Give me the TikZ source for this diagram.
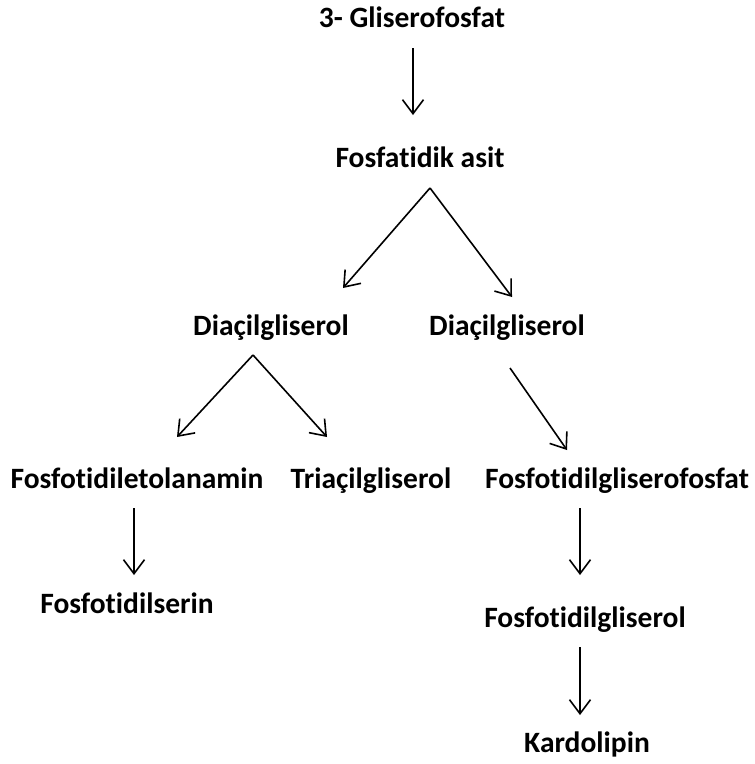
\documentclass[tikz,border=0pt]{standalone}
\usepackage{fontspec}
\setmainfont{Carlito}[Ligatures={NoCommon}]
\usetikzlibrary{arrows.meta}

\tikzset{
  lipid/.style={font=\fontsize{29.5}{31}\selectfont\bfseries, inner sep=0pt, anchor=base},
  step arrow/.style={-{Straight Barb[length=14pt,width=21pt]}, line width=1.6pt}
}

\begin{document}
\begin{tikzpicture}[x=1pt,y=-1pt]
  \useasboundingbox (0,0) rectangle (755,764);

  % metabolites
  \node[lipid] (gf)   at (412,27)  {3- Gliserofosfat};
  \node[lipid] (fa)   at (420,167) {Fosfatidik asit};
  \node[lipid] (dagL) at (271,335) {Diaçilgliserol};
  \node[lipid] (dagR) at (507,335) {Diaçilgliserol};
  \node[lipid] (pe)   at (137,488) {Fosfotidiletolanamin};
  \node[lipid] (tag)  at (371,488) {Triaçilgliserol};
  \node[lipid] (pgp)  at (617,488) {Fosfotidilgliserofosfat};
  \node[lipid] (ps)   at (127,613) {Fosfotidilserin};
  \node[lipid] (pg)   at (585,627) {Fosfotidilgliserol};
  \node[lipid] (cl)   at (587,752) {Kardolipin};

  % arrow ends
  \coordinate (gf-out)   at (413,48);
  \coordinate (fa-in)    at (413,115);
  \coordinate (fa-top)   at (430,188);
  \coordinate (dagL-in)  at (343,288);
  \coordinate (dagR-in)  at (512,297);
  \coordinate (dag-top)  at (253,355);
  \coordinate (pe-in)    at (177,437);
  \coordinate (tag-in)   at (327,437);
  \coordinate (dagR-out) at (510,368);
  \coordinate (pgp-in)   at (567,450);
  \coordinate (pe-out)   at (134,508);
  \coordinate (ps-in)    at (134,575);
  \coordinate (pgp-out)  at (580,508);
  \coordinate (pg-in)    at (580,575);
  \coordinate (pg-out)   at (580,647);
  \coordinate (cl-in)    at (580,715);

  % reactions
  \draw[step arrow] (gf-out) -- (fa-in);
  \draw[step arrow] (fa-top) -- (dagL-in);
  \draw[step arrow] (fa-top) -- (dagR-in);
  \draw[step arrow] (dag-top) -- (pe-in);
  \draw[step arrow] (dag-top) -- (tag-in);
  \draw[step arrow] (dagR-out) -- (pgp-in);
  \draw[step arrow] (pe-out) -- (ps-in);
  \draw[step arrow] (pgp-out) -- (pg-in);
  \draw[step arrow] (pg-out) -- (cl-in);
\end{tikzpicture}
\end{document}
